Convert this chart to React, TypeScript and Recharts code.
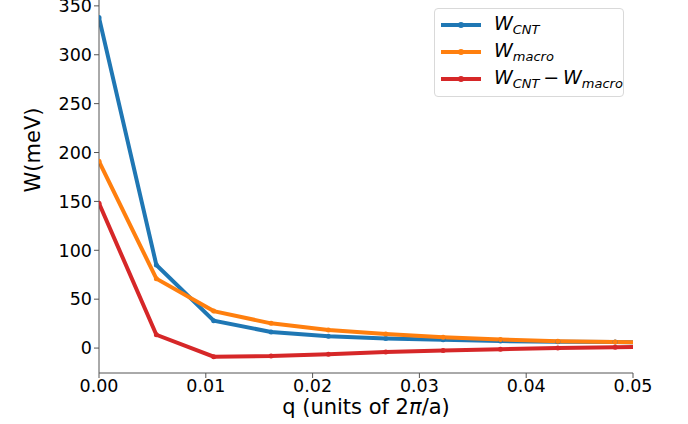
import { LineChart, Line, XAxis, YAxis } from "recharts";

// sampled q points (last one lies just past the x limit, so the lines run to the edge)
const qValues = [0, 0.00537, 0.01074, 0.01611, 0.02148, 0.02685, 0.03222, 0.03759, 0.04296, 0.04833, 0.0537];
const wCnt = [338, 85, 28, 16.5, 12, 9.8, 8.5, 7.2, 6.4, 6.1, 5.8];
const wMacro = [191, 71, 37.8, 25.3, 18.4, 14.3, 11, 8.8, 7.1, 6.1, 5.6];
const wDiff = [148, 13.6, -8.8, -8.2, -6.2, -3.9, -2.4, -1.1, 0, 0.9, 1.3];

const xTicks = [0, 0.01, 0.02, 0.03, 0.04, 0.05];
const yTicks = [0, 50, 100, 150, 200, 250, 300, 350];

const BLUE = "#1f77b4";
const ORANGE = "#ff7f0e";
const RED = "#d62728";
const FONT = "'DejaVu Sans', sans-serif";

const data = qValues.map((q, i) => ({ q, cnt: wCnt[i], macro: wMacro[i], diff: wDiff[i] }));

function Swatch({ color }: { color: string }) {
  return (
    <svg width={42} height={10} style={{ marginRight: 12, flexShrink: 0 }}>
      <line x1={1} y1={5} x2={41} y2={5} stroke={color} strokeWidth={4} />
      <circle cx={21} cy={5} r={3} fill={color} />
    </svg>
  );
}

function MathLabel({ parts }: { parts: [string, string][] }) {
  return (
    <span style={{ fontStyle: "italic", fontSize: 19, whiteSpace: "nowrap" }}>
      {parts.map(([main, sub], i) => (
        <span key={i}>
          {main}
          {sub ? <sub style={{ fontSize: 13, verticalAlign: "-4px" }}>{sub}</sub> : null}
        </span>
      ))}
    </span>
  );
}

function LegendBox() {
  const rows: { color: string; parts: [string, string][] }[] = [
    { color: BLUE, parts: [["W", "CNT"]] },
    { color: ORANGE, parts: [["W", "macro"]] },
    { color: RED, parts: [["W", "CNT"], ["\u2009\u2212\u2009W", "macro"]] },
  ];
  return (
    <div
      style={{
        position: "absolute",
        left: 434,
        top: 8,
        width: 178,
        border: "1px solid #d9d9d9",
        borderRadius: 4,
        background: "rgba(255,255,255,0.8)",
        padding: "2px 5px 4px 5px",
        fontFamily: FONT,
      }}
    >
      {rows.map((r, i) => (
        <div key={i} style={{ display: "flex", alignItems: "center", height: 27 }}>
          <Swatch color={r.color} />
          <MathLabel parts={r.parts} />
        </div>
      ))}
    </div>
  );
}

export default function App() {
  return (
    <div style={{ position: "absolute", left: 0, top: 0, width: 688, height: 424, background: "#fff" }}>
      <LineChart width={688} height={424} data={data} margin={{ top: 0, right: 55, bottom: 0, left: 0 }}>
        <XAxis
          dataKey="q"
          type="number"
          domain={[0, 0.05]}
          allowDataOverflow
          ticks={xTicks}
          interval={0}
          tickFormatter={(v: number) => v.toFixed(2)}
          tick={{ fill: "#000", fontSize: 17.5, fontFamily: FONT }}
          tickSize={5}
          tickMargin={2}
          stroke="#555"
          height={51}
          label={() => (
            <text x={366} y={414} textAnchor="middle" fontSize={21} fontFamily={FONT} fill="#000">
              q (units of 2<tspan fontStyle="italic">π</tspan>/a)
            </text>
          )}
        />
        <YAxis
          type="number"
          domain={[-25.5, 356]}
          allowDataOverflow
          ticks={yTicks}
          interval={0}
          tick={{ fill: "#000", fontSize: 17.5, fontFamily: FONT }}
          tickSize={5}
          tickMargin={2}
          stroke="#555"
          width={99}
          label={() => (
            <text
              x={0}
              y={0}
              transform="translate(40,150) rotate(-90)"
              textAnchor="middle"
              fontSize={21}
              fontFamily={FONT}
              fill="#000"
            >
              W(meV)
            </text>
          )}
        />
        <Line
          dataKey="cnt"
          stroke={BLUE}
          strokeWidth={4}
          dot={{ r: 2.5, fill: BLUE, stroke: BLUE, strokeWidth: 0 }}
          isAnimationActive={false}
        />
        <Line
          dataKey="macro"
          stroke={ORANGE}
          strokeWidth={4}
          dot={{ r: 2.5, fill: ORANGE, stroke: ORANGE, strokeWidth: 0 }}
          isAnimationActive={false}
        />
        <Line
          dataKey="diff"
          stroke={RED}
          strokeWidth={4}
          dot={{ r: 2.5, fill: RED, stroke: RED, strokeWidth: 0 }}
          isAnimationActive={false}
        />
      </LineChart>
      <LegendBox />
    </div>
  );
}
